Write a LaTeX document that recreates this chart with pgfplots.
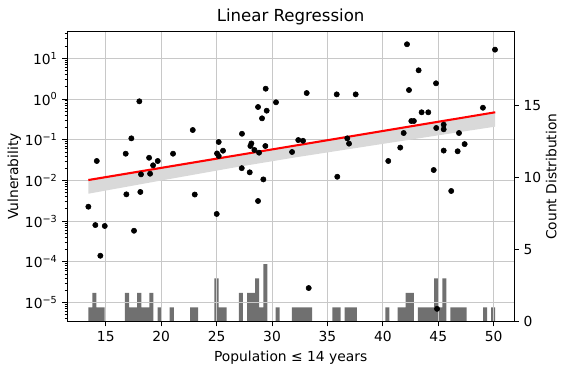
\documentclass[border=0pt]{standalone}
\usepackage{fontspec}
\setmainfont{DejaVu Sans}
\usepackage{pgfplots}
\pgfplotsset{compat=1.18}
\definecolor{histc}{RGB}{112,112,112}
\definecolor{bandc}{RGB}{217,217,217}
\definecolor{gridc}{RGB}{200,200,200}
\begin{document}
\begin{tikzpicture}
\useasboundingbox (-48.46bp,-34.78bp) rectangle (356.2bp,231.6bp);
% histogram axis (right)
\begin{axis}[
  at={(0,0)}, anchor=south west,
  width=321.6bp, height=208.8bp, scale only axis,
  xmin=11.53, xmax=51.83,
  ymin=0, ymax=20.14,
  axis y line*=right, axis x line=none,
  ytick={0,5,10,15},
  tick align=outside,
  major tick length=3.5pt,
  every tick/.style={black, line width=0.58bp},
  axis line style={black, line width=0.58bp},
  ylabel={Count Distribution},
  ylabel shift=-3.5pt,
  tick label style={font=\fontsize{10}{12}\selectfont},
  label style={font=\fontsize{10}{12}\selectfont},
  /pgf/number format/assume math mode=true,
]
\addplot[ybar, bar width=0.3671, bar shift=0pt, fill=histc, draw=none] coordinates {
(13.6136,1) (13.9807,2) (14.3478,1) (14.7149,1)
(16.9175,2) (17.2846,1) (17.6517,1) (18.0188,2) (18.3859,1) (18.7530,1) (19.1201,2)
(19.8543,1) (20.9556,1) (22.7911,1) (23.1582,1)
(24.9937,3) (25.3608,1) (25.7279,1)
(27.1963,2) (27.9305,2) (28.2976,2) (28.6647,3) (29.0318,1) (29.3989,4)
(30.5002,1)
(31.9686,1) (32.3357,1) (32.7028,1) (33.0699,1) (33.4370,1)
(35.6396,1) (36.0067,1) (36.7409,1) (37.1080,1) (37.4751,1)
(40.4119,1)
(41.5132,1) (41.8803,1) (42.2474,2) (42.6145,2)
(43.3487,1) (43.7158,1) (44.0829,1) (44.4500,1) (44.8171,3) (45.1842,1) (45.5513,3)
(46.2855,1) (46.6526,1) (47.0197,1) (47.3868,1)
(49.2223,1) (49.9565,1)
};
\end{axis}
% main axis (left, log)
\begin{axis}[
  at={(0,0)}, anchor=south west,
  width=321.6bp, height=208.8bp, scale only axis,
  xmin=11.53, xmax=51.83,
  ymode=log, ymin=3.39e-6, ymax=45.1,
  xtick={15,20,25,30,35,40,45,50},
  ytick={1e-5,1e-4,1e-3,1e-2,1e-1,1,10},
  yticklabels={10\textsuperscript{−5},10\textsuperscript{−4},10\textsuperscript{−3},10\textsuperscript{−2},10\textsuperscript{−1},10\textsuperscript{0},10\textsuperscript{1}},
  minor ytick={4e-6,5e-6,6e-6,7e-6,8e-6,9e-6,
    2e-5,3e-5,4e-5,5e-5,6e-5,7e-5,8e-5,9e-5,
    2e-4,3e-4,4e-4,5e-4,6e-4,7e-4,8e-4,9e-4,
    2e-3,3e-3,4e-3,5e-3,6e-3,7e-3,8e-3,9e-3,
    2e-2,3e-2,4e-2,5e-2,6e-2,7e-2,8e-2,9e-2,
    0.2,0.3,0.4,0.5,0.6,0.7,0.8,0.9,
    2,3,4,5,6,7,8,9,20,30,40},
  xtick pos=bottom, ytick pos=left,
  tick align=outside,
  major tick length=3.5pt, minor tick length=2pt,
  every tick/.style={black, line width=0.58bp},
  axis line style={black, line width=0.58bp},
  grid=major, major grid style={gridc, line width=0.58bp},
  minor grid style={draw=none},
  title={Linear Regression},
  title style={font=\fontsize{12}{14}\selectfont, yshift=-5bp},
  xlabel={Population ≤ 14 years},
  ylabel={Vulnerability},
  ylabel shift=-4pt,
  tick label style={font=\fontsize{10}{12}\selectfont},
  label style={font=\fontsize{10}{12}\selectfont},
  /pgf/number format/assume math mode=true,
]
\addplot[fill=bandc, draw=none] coordinates {
(13.43,0.01023) (20,0.02030) (26.2,0.03879) (32,0.07105) (38,0.1329) (44,0.2486) (50.14,0.4719)
(50.14,0.2093) (44,0.1163) (38,0.06508) (32,0.03643) (26.2,0.01989) (20,0.00995) (13.43,0.00471)
} -- cycle;
\addplot[red, line width=1.5bp] coordinates {(13.43,0.01023) (50.14,0.4719)};
\addplot[only marks, mark=*, mark size=1.9pt, mark options={fill=black, draw=black}] coordinates {
(13.43,0.00226) (14.06,0.0008) (14.19,0.030) (14.51,0.000141) (14.91,0.00076)
(16.80,0.0453) (16.86,0.00455) (17.31,0.108) (17.55,0.00058) (18.03,0.877)
(18.12,0.0052) (18.18,0.0141) (18.91,0.036) (19.00,0.0146) (19.27,0.0235)
(19.69,0.030) (21.07,0.0453) (22.85,0.173) (23.03,0.0045) (25.01,0.0015)
(25.04,0.046) (25.19,0.088) (25.19,0.0398) (25.58,0.0537) (27.27,0.020)
(27.29,0.14) (27.99,0.0158) (28.05,0.070) (28.14,0.081) (28.41,0.056)
(28.74,0.00312) (28.74,0.636) (28.83,0.048) (29.10,0.335) (29.22,0.0106)
(29.40,0.070) (29.43,1.79) (29.52,0.516) (30.36,0.83) (31.81,0.0499)
(32.37,0.098) (32.80,0.094) (33.13,1.40) (33.31,2.27e-5) (35.84,1.30)
(35.89,0.0123) (36.79,0.108) (36.95,0.080) (37.55,1.30) (40.49,0.030)
(41.57,0.064) (41.88,0.146) (42.18,22.1) (42.36,1.66) (42.57,0.288)
(42.80,0.288) (43.23,5.07) (43.50,0.471) (44.10,0.471) (44.59,0.018)
(44.80,2.43) (44.82,0.194) (44.89,7.0e-6) (45.49,0.234) (45.49,0.18)
(45.49,0.054) (46.17,0.0055) (46.75,0.052) (46.87,0.146) (47.38,0.078)
(49.03,0.61) (50.12,16.3)
};
\end{axis}
\end{tikzpicture}
\end{document}
